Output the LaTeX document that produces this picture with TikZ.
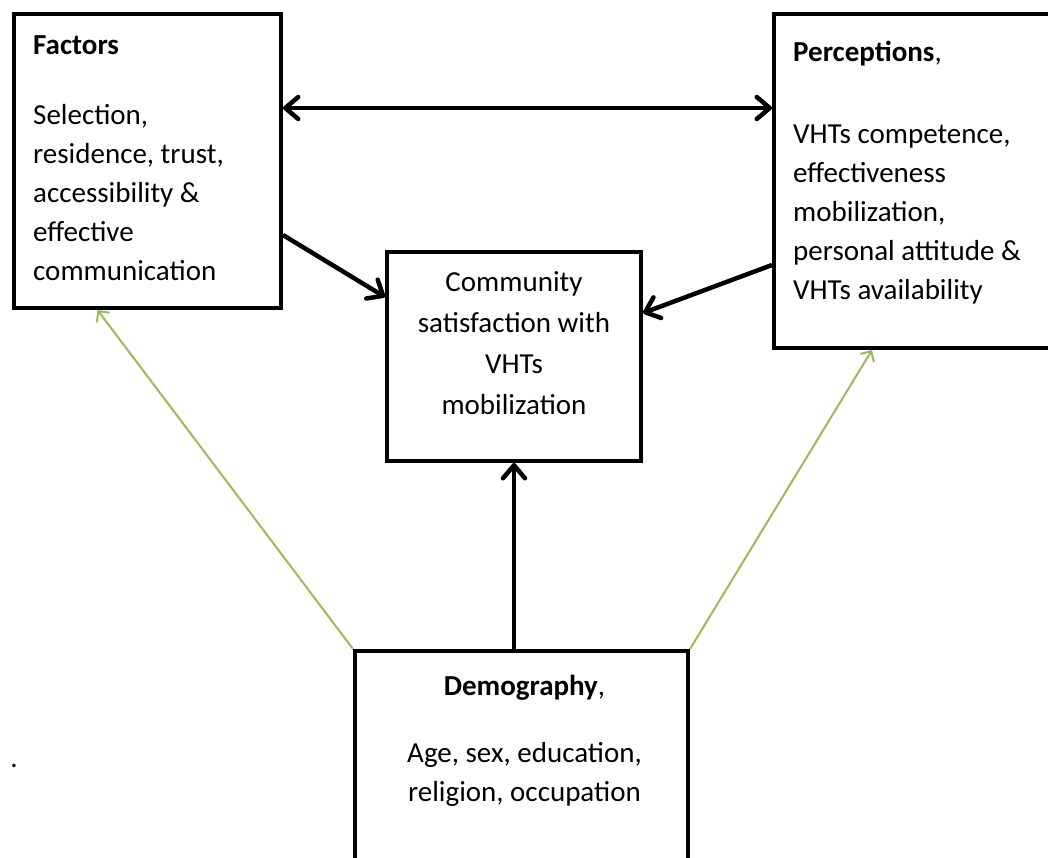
\documentclass[tikz,border=0pt]{standalone}
\usepackage{fontspec}
\setmainfont{Carlito}
\usetikzlibrary{positioning, arrows.meta}
\definecolor{linkgreen}{HTML}{9BBB59}

\begin{document}
\begin{tikzpicture}[
		x=1pt, y=-1pt,
		>={Straight Barb[length=13pt, width=22pt, round]},
		font=\fontsize{29}{39}\selectfont,
		box/.style={draw, line width=4pt, inner sep=0pt},
		boxtext/.style={inner sep=0pt},
		map/.style={->, line width=4.5pt},
		link/.style={-{Straight Barb[length=8pt, width=16pt]}, line width=2pt, linkgreen}
		]
		\useasboundingbox (0,0) rectangle (1048,857);
		
		% --- Boxes ---
		\node[box, minimum width=267pt, minimum height=294pt] (fac) at (147.5,161) {};
		\node[box, minimum width=278pt, minimum height=334pt] (per) at (913,181) {};
		\node[box, minimum width=254pt, minimum height=209pt] (cen) at (514,356.5) {};
		\node[box, minimum width=333pt, minimum height=249pt] (dem) at (521.5,775.5) {};
		
		% --- Texts ---
		\node[boxtext, align=left, below right=23pt and 21pt of fac.north west] (factext) {\textbf{Factors}\\[31pt] Selection,\\ residence, trust,\\ accessibility \&\\ effective\\ communication};
		\node[boxtext, align=left, below right=29pt and 21pt of per.north west] (pertext) {\textbf{Perceptions},\\[43pt] VHTs competence,\\ effectiveness\\ mobilization,\\ personal attitude \&\\ VHTs availability};
		\node[boxtext, align=center, font=\fontsize{29}{41}\selectfont, below=21pt of cen.north] (centext) {Community\\ satisfaction with\\ VHTs\\ mobilization};
		\node[boxtext, align=center, below=26pt of dem.north, xshift=3pt] (demtext) {\textbf{Demography},\\[28pt] Age, sex, education,\\ religion, occupation};
		\node (dot) at (14,766) {.};
		
		% --- Connectors ---
		\draw[map, <->] ([yshift=53pt]fac.east) -- ([yshift=73pt]per.west);
		\draw[map] ([yshift=-74pt]fac.east) -- ([yshift=59.5pt]cen.west);
		\draw[map] ([yshift=-84pt]per.west) -- ([yshift=43.5pt]cen.east);
		\draw[map] (dem.north -| cen.south) -- (cen.south);
		
		\draw[link] (dem.north west) -- ([xshift=-50pt]fac.south);
		\draw[link] (dem.north east) -- ([xshift=-41pt]per.south);
		
	\end{tikzpicture}
\end{document}
